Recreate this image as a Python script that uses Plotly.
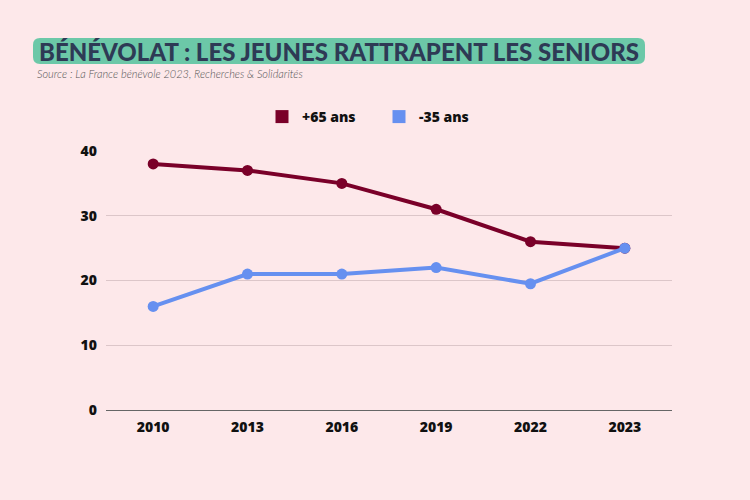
import plotly.graph_objects as go

years = ["2010", "2013", "2016", "2019", "2022", "2023"]
seniors = [38, 37, 35, 31, 26, 25]
jeunes = [16, 21, 21, 22, 19.5, 25]
series_names = ["+65 ans", "-35 ans"]
colors = ["#7a0029", "#6690f0"]

W, H = 750, 500
L, R, T, B = 106, 78, 151, 90
pw, ph = W - L - R, H - T - B

def px(x):
    return (x - L) / pw

def py(y):
    return (H - B - y) / ph

fig = go.Figure()
for name, vals, c in zip(series_names, [seniors, jeunes], colors):
    fig.add_trace(go.Scatter(x=years, y=vals, mode="lines+markers", name=name,
                             line=dict(color=c, width=4), marker=dict(size=11, color=c),
                             showlegend=False))
for name, c in zip(series_names, colors):
    fig.add_trace(go.Scatter(x=[None], y=[None], mode="markers", name=name,
                             marker=dict(symbol="square", size=13, color=c)))

# rounded title box
x0, x1, y0, y1 = px(33), px(645), py(64), py(38)
rx, ry = 7 / pw, 7 / ph
path = (f"M {x0+rx},{y0} L {x1-rx},{y0} Q {x1},{y0} {x1},{y0+ry} L {x1},{y1-ry} "
        f"Q {x1},{y1} {x1-rx},{y1} L {x0+rx},{y1} Q {x0},{y1} {x0},{y1-ry} "
        f"L {x0},{y0+ry} Q {x0},{y0} {x0+rx},{y0} Z")
fig.add_shape(type="path", path=path, xref="paper", yref="paper",
              fillcolor="#6cc8a8", line=dict(width=0), layer="below")

fig.add_annotation(text="BÉNÉVOLAT : LES JEUNES RATTRAPENT LES SENIORS",
                   x=px(37), y=py(51), xref="paper", yref="paper",
                   xanchor="left", yanchor="middle", showarrow=False,
                   font=dict(family="Lato", size=24, color="#2e3a55", weight=900))
fig.add_annotation(text="Source : La France bénévole 2023, Recherches & Solidarités",
                   x=px(35), y=py(74), xref="paper", yref="paper",
                   xanchor="left", yanchor="middle", showarrow=False,
                   font=dict(family="Lato", size=11, color="#555555", style="italic", weight=300))

tick_font = dict(family="Open Sans", size=14, color="#111111", weight=800)
fig.update_layout(
    width=W, height=H,
    margin=dict(l=L, r=R, t=T, b=B),
    paper_bgcolor="#fde8ea", plot_bgcolor="#fde8ea",
    legend=dict(orientation="h", x=px(262), xanchor="left", y=py(117), yanchor="middle",
                font=tick_font, itemwidth=30, entrywidth=72, bgcolor="rgba(0,0,0,0)"),
    xaxis=dict(range=[-0.5, 5.5], showgrid=False, showline=True, linecolor="#666666", linewidth=1,
               ticks="", ticklabelstandoff=4, tickfont=tick_font, zeroline=False),
    yaxis=dict(range=[0, 40], tickvals=[0, 10, 20, 30, 40], showgrid=True,
               gridcolor="#dcc6c9", gridwidth=1, zeroline=False, showline=False,
               ticks="", ticklabelstandoff=8, tickfont=tick_font),
)
fig.write_html("out.html", config={"displayModeBar": False},
               post_script="document.body.style.margin='0';document.body.style.background='#fde8ea';")
